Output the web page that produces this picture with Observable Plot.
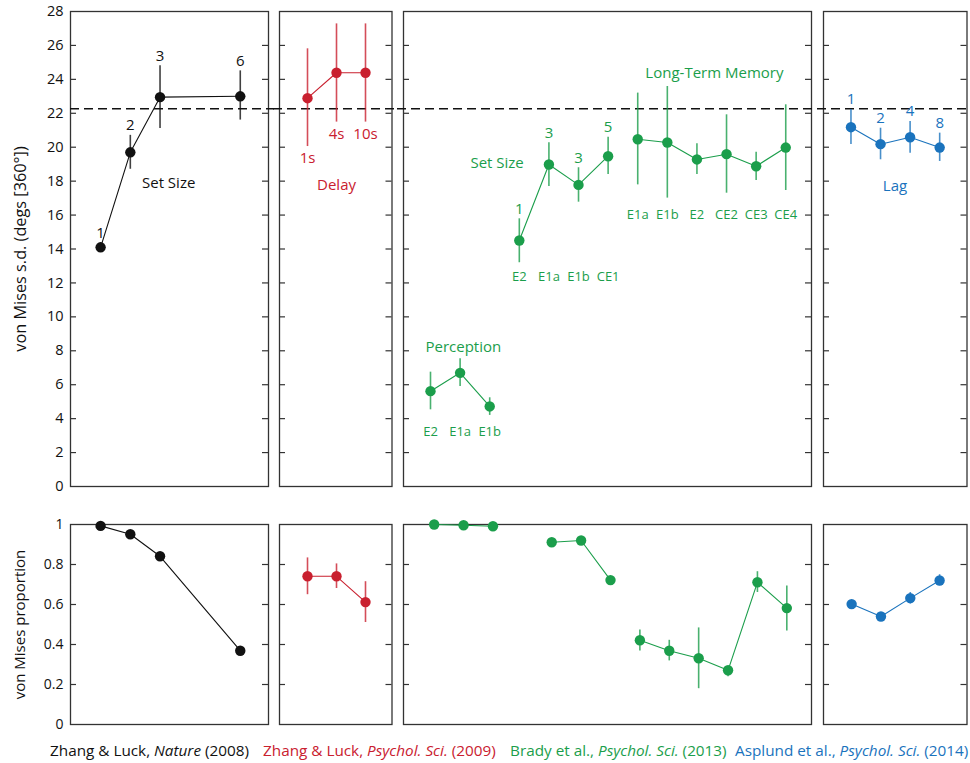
<!DOCTYPE html>
<html><head><meta charset="utf-8">
<script src="https://cdn.jsdelivr.net/npm/d3@7"></script>
<script src="https://cdn.jsdelivr.net/npm/@observablehq/plot@0.6"></script>
<style>
body{margin:0;background:#fff;font-family:"Open Sans",sans-serif;}
#chart{position:relative;width:970px;height:763px;overflow:hidden;}
#chart svg{position:absolute;}
.cap{position:absolute;top:740px;font-size:15.3px;white-space:nowrap;line-height:20px;}
</style></head><body><div id="chart"></div>
<script>
const FONT = "Open Sans";
const colors = {zl08: "#111111", zl09: "#c9202f", brady: "#1b9e4b", asplund: "#1a73bd"};
const refSd = 22.27;            // dashed reference line (von Mises s.d.)
const sdTicks = d3.range(0, 29, 2);
const propTicks = [0, 0.2, 0.4, 0.6, 0.8, 1];
const yTitles = {top: "von Mises s.d. (degs [360°])", bot: "von Mises proportion"};

// Zhang & Luck (2008) Nature — set size
const zl08Cond = ["1", "2", "3", "6"];
const zl08Slot = [1, 2, 3, 5.7];
const zl08Sd   = [14.1, 19.7, 22.95, 23.0];
const zl08SdLo = [13.9, 18.7, 21.1, 21.6];
const zl08SdHi = [14.35, 20.7, 24.8, 24.5];
const zl08Prop = [0.993, 0.951, 0.841, 0.369];

// Zhang & Luck (2009) Psychol. Sci. — delay
const zl09Cond = ["1s", "4s", "10s"];
const zl09Slot = [1, 2, 3];
const zl09Sd   = [22.89, 24.39, 24.39];
const zl09SdLo = [20.04, 21.48, 21.48];
const zl09SdHi = [25.8, 27.27, 27.27];
const zl09Prop   = [0.741, 0.741, 0.612];
const zl09PropLo = [0.649, 0.680, 0.510];
const zl09PropHi = [0.833, 0.803, 0.714];

// Brady et al. (2013) Psychol. Sci.
const bradyGroup = ["Perception","Perception","Perception",
  "Set Size","Set Size","Set Size","Set Size",
  "Long-Term Memory","Long-Term Memory","Long-Term Memory","Long-Term Memory","Long-Term Memory","Long-Term Memory"];
const bradyCond = ["E2","E1a","E1b", "E2","E1a","E1b","CE1", "E1a","E1b","E2","CE2","CE3","CE4"];
const bradySetSize = [null,null,null, "1","3","3","5", null,null,null,null,null,null];
const bradySlot = [1,2,3, 4,5,6,7, 8,9,10,11,12,13];
const bradySd   = [5.62,6.70,4.72, 14.50,18.98,17.78,19.47, 20.47,20.28,19.28,19.59,18.88,19.98];
const bradySdLo = [4.52,5.89,4.19, 13.19,17.68,16.76,18.39, 17.78,17.00,18.39,17.29,18.04,17.45];
const bradySdHi = [6.74,7.53,5.23, 15.78,20.26,18.79,20.59, 23.19,23.58,20.20,21.91,19.71,22.50];
const bradyProp   = [1.0,0.996,0.991, null,0.911,0.920,0.722, 0.421,0.369,0.331,0.271,0.711,0.582];
const bradyPropLo = [null,null,null, null,null,null,null, 0.368,0.318,0.179,0.239,0.660,0.468];
const bradyPropHi = [null,null,null, null,null,null,null, 0.473,0.421,0.483,0.289,0.764,0.692];

// Asplund et al. (2014) Psychol. Sci. — lag
const aspCond = ["1", "2", "4", "8"];
const aspSlot = [1, 2, 3, 4];
const aspSd   = [21.18, 20.18, 20.59, 19.98];
const aspSdLo = [20.16, 19.26, 19.65, 19.16];
const aspSdHi = [22.22, 21.12, 21.52, 20.83];
const aspProp   = [0.602, 0.540, 0.632, 0.720];
const aspPropLo = [null, null, 0.602, 0.694];
const aspPropHi = [null, null, 0.660, 0.749];

const captions = [
  {key: "zl08", html: "Zhang &amp; Luck, <i>Nature</i> (2008)"},
  {key: "zl09", html: "Zhang &amp; Luck, <i>Psychol. Sci.</i> (2009)"},
  {key: "brady", html: "Brady et al., <i>Psychol. Sci.</i> (2013)"},
  {key: "asplund", html: "Asplund et al., <i>Psychol. Sci.</i> (2014)"}
];

function table(cols) {
  const n = cols.slot.length;
  return d3.range(n).map(i => Object.fromEntries(Object.entries(cols).map(([k, a]) => [k, a ? a[i] : null])));
}
const zl08 = table({cond: zl08Cond, slot: zl08Slot, sd: zl08Sd, sdLo: zl08SdLo, sdHi: zl08SdHi, prop: zl08Prop, pLo: null, pHi: null, group: zl08Cond.map(() => "a")});
const zl09 = table({cond: zl09Cond, slot: zl09Slot, sd: zl09Sd, sdLo: zl09SdLo, sdHi: zl09SdHi, prop: zl09Prop, pLo: zl09PropLo, pHi: zl09PropHi, group: zl09Cond.map(() => "a")});
const brady = table({cond: bradyCond, setSize: bradySetSize, slot: bradySlot, sd: bradySd, sdLo: bradySdLo, sdHi: bradySdHi, prop: bradyProp, pLo: bradyPropLo, pHi: bradyPropHi, group: bradyGroup});
const asp = table({cond: aspCond, slot: aspSlot, sd: aspSd, sdLo: aspSdLo, sdHi: aspSdHi, prop: aspProp, pLo: aspPropLo, pHi: aspPropHi, group: aspCond.map(() => "a")});

const chart = document.getElementById("chart");
const FRAME = "#333";

function panel(o) {
  const W = o.right - o.left, H = o.bottom - o.top;
  const ml = o.ml ?? 6, mr = o.mr ?? 6;
  const innerTicks = o.row === "top" ? sdTicks.slice(1, -1) : propTicks.slice(1, -1);
  const marks = [
    Plot.ruleY(innerTicks, {stroke: FRAME, strokeWidth: 1.2, insetRight: W - 6}),
    Plot.ruleY(innerTicks, {stroke: FRAME, strokeWidth: 1.2, insetLeft: W - 6}),
    Plot.frame({stroke: FRAME, strokeWidth: 1.3})
  ];
  if (o.axis) {
    marks.push(Plot.axisY({
      ticks: o.row === "top" ? sdTicks : propTicks,
      tickSize: 0, tickPadding: 7, fontSize: o.row === "top" ? 14.5 : 14, label: null,
      tickFormat: o.row === "top" ? d3.format("d") : (d => String(d))
    }));
    marks.push(Plot.text([yTitles[o.row]], {text: d => d, frameAnchor: "left", rotate: -90, dx: -50,
      fontSize: o.row === "top" ? 16.3 : 15, fill: "#111", textAnchor: "middle", lineAnchor: "middle"}));
  }
  if (o.dash) {
    marks.push(Plot.ruleY([refSd], {stroke: "#111", strokeWidth: 1.5, strokeDasharray: "9,5",
      insetLeft: o.dashL ?? -ml, insetRight: o.dashR ?? -mr}));
  }
  marks.push(...o.marks);
  const svg = Plot.plot({
    width: W + ml + mr, height: H + o.mt + o.mb,
    marginLeft: ml, marginRight: mr, marginTop: o.mt, marginBottom: o.mb,
    style: {background: "transparent", overflow: "visible", fontFamily: FONT, fontSize: "15px", color: "#111"},
    x: {domain: o.xDomain, axis: null},
    y: o.axis ? {domain: o.row === "top" ? [0, 28] : [0, 1]} : {domain: o.row === "top" ? [0, 28] : [0, 1], axis: null},
    marks
  });
  svg.style.left = (o.left - ml) + "px";
  svg.style.top = (o.top - o.mt) + "px";
  chart.appendChild(svg);
}

function seriesMarks(data, color, yKey, loKey, hiKey) {
  const d = data.filter(r => r[yKey] != null);
  const e = data.filter(r => r[loKey] != null);
  return [
    Plot.ruleX(e, {x: "slot", y1: loKey, y2: hiKey, stroke: color, strokeWidth: 1.6, strokeOpacity: 0.8}),
    Plot.line(d, {x: "slot", y: yKey, z: "group", stroke: color, strokeWidth: 1.1}),
    Plot.dot(d, {x: "slot", y: yKey, r: 5.2, fill: color, stroke: "none"})
  ];
}

const TOP = {row: "top", top: 11, bottom: 486, mt: 11, mb: 10};
const BOT = {row: "bot", top: 523.5, bottom: 723.5, mt: 8, mb: 8};
const txt = (color, extra) => ({fill: color, fontSize: 15, ...extra});

// ---- top row ----
panel({...TOP, left: 70, right: 268, ml: 70, xDomain: [-0.013, 6.65], axis: true, dash: true, dashL: 0,
  marks: [
    ...seriesMarks(zl08, colors.zl08, "sd", "sdLo", "sdHi"),
    Plot.text(zl08, {x: "slot", y: "sdHi", text: "cond", dy: -10, ...txt(colors.zl08)}),
    Plot.text(["Set Size"], {x: 3.29, y: 17.9, text: d => d, ...txt(colors.zl08)})
  ]});
panel({...TOP, left: 279, right: 391.5, xDomain: [0.034, 3.914], dash: true,
  marks: [
    ...seriesMarks(zl09, colors.zl09, "sd", "sdLo", "sdHi"),
    Plot.text(zl09, {x: "slot", y: "sdLo", text: "cond", dy: 12, ...txt(colors.zl09)}),
    Plot.text(["Delay"], {x: 2, y: 17.75, text: d => d, ...txt(colors.zl09)})
  ]});
const gap = {"Perception": 16, "Set Size": 14, "Long-Term Memory": 17};
const groupMin = d3.rollup(brady, v => d3.min(v, r => r.sdLo), r => r.group);
panel({...TOP, left: 403, right: 811, xDomain: [0.088, 13.87], dash: true,
  marks: [
    ...seriesMarks(brady, colors.brady, "sd", "sdLo", "sdHi"),
    ...Object.keys(gap).map(g => Plot.text(brady.filter(r => r.group === g),
      {x: "slot", y: () => groupMin.get(g), text: "cond", dy: gap[g], ...txt(colors.brady, {fontSize: 13})})),
    Plot.text(brady.filter(r => r.setSize), {x: "slot", y: "sdHi", text: "setSize", dy: -10, ...txt(colors.brady)}),
    Plot.text(["Perception"], {x: 2.11, y: 8.21, text: d => d, ...txt(colors.brady)}),
    Plot.text(["Set Size"], {x: 3.25, y: 19.08, text: d => d, ...txt(colors.brady)}),
    Plot.text(["Long-Term Memory"], {x: 10.59, y: 24.37, text: d => d, ...txt(colors.brady)})
  ]});
panel({...TOP, left: 822.5, right: 966, mr: 4, xDomain: [0.071, 4.924], dash: true, dashR: -1,
  marks: [
    ...seriesMarks(asp, colors.asplund, "sd", "sdLo", "sdHi"),
    Plot.text(asp, {x: "slot", y: "sdHi", text: "cond", dy: -10, ...txt(colors.asplund)}),
    Plot.text(["Lag"], {x: 2.49, y: 17.7, text: d => d, ...txt(colors.asplund)})
  ]});

// ---- bottom row ----
panel({...BOT, left: 70, right: 268, ml: 70, xDomain: [-0.013, 6.65], axis: true,
  marks: seriesMarks(zl08, colors.zl08, "prop", "pLo", "pHi")});
panel({...BOT, left: 279, right: 391.5, xDomain: [0.034, 3.914],
  marks: seriesMarks(zl09, colors.zl09, "prop", "pLo", "pHi")});
panel({...BOT, left: 403, right: 811, xDomain: [-0.044, 13.84],
  marks: seriesMarks(brady, colors.brady, "prop", "pLo", "pHi")});
panel({...BOT, left: 822.5, right: 966, mr: 4, xDomain: [0.041, 4.934],
  marks: seriesMarks(asp, colors.asplund, "prop", "pLo", "pHi")});

// ---- caption ----
const capX = [50, 263, 510, 735];
captions.forEach((c, i) => {
  const s = document.createElement("div");
  s.className = "cap";
  s.style.left = capX[i] + "px";
  s.style.color = colors[c.key];
  s.innerHTML = c.html;
  chart.appendChild(s);
});
</script></body></html>
